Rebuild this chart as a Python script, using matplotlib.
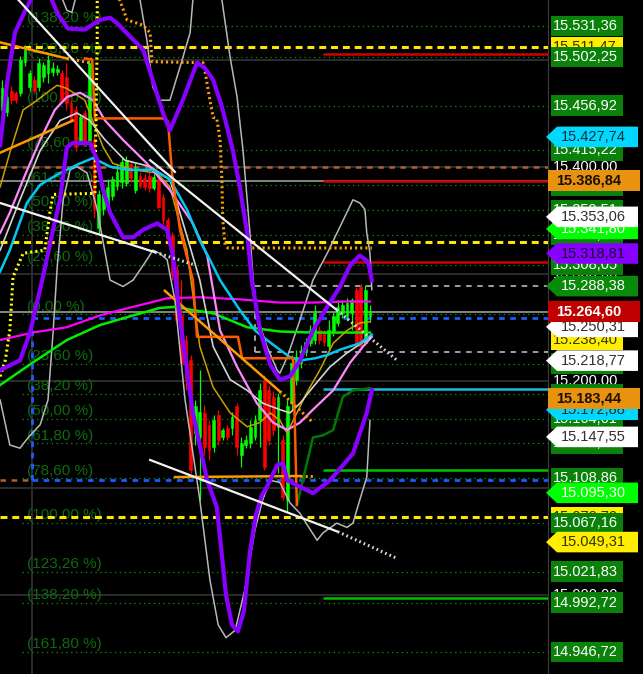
import numpy as np
import matplotlib
matplotlib.use("Agg")
from matplotlib import pyplot as plt
from matplotlib.patches import Polygon

plt.rcParams['font.family'] = ['Liberation Sans', 'DejaVu Sans']
plt.rcParams['lines.scale_dashes'] = False

# ---- candles (bar index = position) ----
opens  = [15453,15451,15471,15469,15469,15498,15474,15481,15474,15484,
          15487,15488,15488,15487,15484,15459,15453,15425,15450,15425,
          15425,15343,15360,15364,15373,15382,15386,15385,15402,15378,
          15391,15389,15391,15380,15388,15372,15350,15335,15303,15261,
          15238,15219,15151,15147,15170,15159,15138,15168,15147,15156,
          15156,15176,15131,15140,15142,15147,15163,15201,15191,15185,
          15157,15145,15089,15179,15201,15217,15227,15235,15238,15247,
          15245,15232,15246,15254,15263,15260,15263,15285,15288,15235,
          15260]
highs  = [15481,15470,15475,15471,15503,15514,15490,15485,15501,15498,
          15504,15498,15495,15490,15497,15462,15457,15449,15453,15500,
          15429,15378,15382,15388,15391,15402,15408,15410,15406,15403,
          15395,15393,15395,15393,15391,15374,15353,15339,15308,15294,
          15243,15224,15182,15210,15177,15163,15168,15173,15156,15159,
          15171,15179,15147,15149,15163,15168,15198,15205,15196,15190,
          15189,15149,15182,15224,15229,15233,15240,15252,15271,15251,
          15247,15257,15264,15275,15275,15277,15277,15288,15290,15289,
          15271]
lows   = [15445,15447,15458,15459,15466,15494,15471,15470,15471,15479,
          15478,15485,15486,15460,15453,15442,15415,15421,15419,15421,
          15352,15336,15355,15360,15369,15378,15380,15382,15386,15375,
          15380,15378,15376,15378,15360,15346,15327,15294,15252,15215,
          15191,15114,15140,15089,15131,15126,15133,15140,15145,15145,
          15149,15131,15119,15137,15137,15145,15138,15117,15140,15149,
          15114,15089,15077,15173,15196,15212,15223,15232,15234,15234,
          15232,15229,15242,15251,15259,15257,15247,15232,15229,15233,
          15255]
closes = [15473,15465,15462,15462,15500,15509,15487,15471,15497,15495,
          15500,15492,15491,15462,15459,15443,15418,15446,15422,15497,
          15360,15374,15378,15381,15388,15395,15404,15406,15389,15397,
          15382,15381,15380,15390,15362,15350,15333,15299,15257,15217,
          15201,15117,15176,15171,15138,15135,15163,15145,15154,15147,
          15166,15138,15142,15145,15157,15163,15191,15119,15145,15154,
          15185,15091,15176,15217,15222,15229,15236,15247,15263,15238,
          15236,15247,15260,15269,15271,15273,15275,15235,15232,15285,
          15265]

# ---- indicator curves (bar, price) ----
purple_low_x = [-0.4,3.9,6.1,8.9,11.1,12.6,14.1,15.4,19.1,20.7,22,23.5,26.3,28.5,30.7,33.7,35.9,37.2,38,38.7,
                41.5,44.6,46.7,47.6,48.7,50,51.3,52.6,53.9,55.2,56.5,57.6,59.8,61.1,62,64.8,67.6,71.3,76.3,79.3,80.4]
purple_low_y = [15210,15219,15245,15297,15341,15369,15418,15422,15422,15406,15378,15357,15334,15334,15341,15347,15341,15316,15285,15257,
                15170,15107,15082,15045,15000,14972,14966,14985,15040,15075,15093,15101,15121,15123,15107,15101,15095,15107,15132,15170,15191]
purple_up_x = [-0.4,1.1,2.8,5.4,7.2,8.7,10.4,12.2,14.3,18,21.3,23.5,25,30.7,35,36.5,39.3,42.4,44.1,45.9,47.8,50.2,
               51.7,53.3,54.3,56.1,58.3,60.4,62.6,64.8,67.6,70.7,73.5,75.7,77.8,79.6,80.4]
purple_up_y = [15420,15478,15525,15549,15563,15570,15560,15542,15529,15528,15537,15539,15534,15509,15450,15434,15462,15497,15492,15481,15456,15415,
               15381,15338,15294,15247,15215,15201,15204,15219,15247,15269,15288,15308,15317,15311,15294]
band_up_x = [11.5,14.1,15.2,17,27.8,30,31.5,32.8,34.3,36.5,38.7,40.9,41.5,43,46.3,47.8,49.6,51.1,52.4,53.3,53.9,54.6,
             55.7,57.6,59.8,60.4,62,64.8,67.6,70.7,73.5,76.3,77.8,78.9,79.3,80,80.4]
band_up_y = [15574,15546,15544,15574,15593,15556,15518,15474,15462,15462,15493,15525,15556,15584,15584,15556,15502,15465,15415,15369,15338,15294,
             15257,15232,15210,15207,15222,15257,15294,15319,15344,15369,15366,15360,15338,15319,15285]
band_low_x = [-0.4,1.7,3.9,5.7,8.3,10,11.1,12,13.3,14.8,16.3,18.5,20.7,23.5,26.3,28.5,31.5,32.8,34.3,35.9,37.6,39.8,
              43,45.2,47,48.7,50.7,52.8,55,56.7,58.3,60.4,62.6,64.8,67,68.5,69.8,72.8,75,76.3,77.8,79.3,80]
band_low_y = [15182,15140,15137,15147,15159,15182,15245,15306,15369,15397,15400,15394,15360,15294,15288,15294,15313,15322,15319,15313,15275,15182,
              15089,15014,14972,14960,14967,15005,15061,15089,15107,15105,15086,15076,15061,15051,15058,15067,15063,15067,15089,15110,15163]
cyan_x = [-0.4,1.7,5.4,8.3,12.6,17,19.8,23.5,27.2,32.8,36.5,40.2,43,45.2,47.4,51.7,55,57.6,60.4,62.6,64.8,68.1,70.7,73.5,77.8,80.4]
cyan_y = [15302,15322,15366,15383,15394,15403,15408,15400,15397,15397,15388,15360,15331,15313,15294,15266,15247,15238,15229,15222,15219,15221,15224,15229,15235,15243]
magenta_x = [-0.4,6.7,14.1,21.3,28.5,35.9,43,51.7,60.4,67.6,75,80]
magenta_y = [15238,15245,15250,15261,15269,15277,15278,15276,15273,15273,15274,15274]
pink_x = [-0.4,1.7,5,8.3,11.5,14.1,17,19.8,22.4,26.3,31.5,36.5,41.5,44.6,47.4,51.1,55.4,58.9,62,64.8,67.6,72,75.7,78.5,80.4]
pink_y = [15338,15357,15392,15425,15453,15465,15469,15462,15443,15425,15403,15378,15347,15317,15247,15213,15179,15161,15154,15161,15173,15191,15217,15232,15241]
grey_ma_x = [-0.4,3.9,8.3,12.6,16.3,19.1,22.4,26.7,32.2,36.5,39.8,43,45.9,49.6,53.3,56.7,60.4,62.6,64.8,67.6,71.3,75,78.5,80]
grey_ma_y = [15322,15369,15415,15443,15450,15443,15425,15406,15400,15388,15341,15294,15232,15201,15191,15179,15173,15170,15179,15194,15213,15226,15236,15241]
olive_x = [-0.4,1.7,4.6,6.7,10.4,12,14.1,18,22,24.1,28.5,33.7,36.5,40.2,43,45.9,49.6,53.3,56.1,58.3,60.4,62,63.3,66.3,69.1,72,75,77.8,80]
olive_y = [15381,15413,15453,15459,15471,15476,15473,15462,15418,15403,15397,15394,15381,15322,15232,15194,15170,15157,15161,15170,15163,15151,15163,15189,15210,15235,15247,15254,15255]
green_ma_x = [-0.4,6.7,14.1,21.3,28.5,34.3,37.6,41.5,45.9,53.3,60.4,67.6,75,80]
green_ma_y = [15196,15217,15238,15252,15261,15268,15269,15266,15263,15250,15246,15245,15245,15245]
dkgreen_x = [64.1,65.4,67.6,69.8,72,74.1,76.3,80]
dkgreen_y = [15084,15107,15147,15149,15154,15185,15191,15193]
step_x = [18,19.6,20.2,35,36.1,37,38.7,41.5,42.4,51.3,52.2,63.3,64.1]
step_y = [15501,15500,15445,15445,15442,15392,15341,15294,15241,15241,15221,15221,15084]
sar_x = [25.2,27.2,30.7,32.2,32.6,43.7,44.1,45.2,45.9,46.7,47.4,47.8,48,48.5,49.1,80.4]
sar_y = [15560,15537,15532,15525,15498,15497,15490,15462,15446,15445,15425,15388,15350,15327,15324,15324]
ydot_x = [-0.4,0.7,1.7,2.4,4.6,9.3,10.4,11.1,20.2,20.7,20.7]
ydot_y = [15204,15219,15247,15297,15319,15322,15357,15374,15375,15520,15565]

# straight segments: (x0, y0, x1, y1, dotted-extension x, y)
white_lines = [(3.5,15556,37.6,15395,None,None),
               (32.2,15406,72.8,15266,85.9,15219),
               (-0.4,15366,33.3,15320,42,15308),
               (32.2,15126,73,15059,85.9,15034)]
orange_lines = [(-0.4,15516,14.1,15501,19.1,15497),
                (-0.4,15413,15.4,15443,None,None),
                (35.4,15284,60.4,15190,67.6,15161),
                (37.6,15110,64.8,15111,67.6,15111)]

# ---- horizontal levels ----
fib_up_vals = [15531.36,15502.25,15456.92,15415.22,15382.42,15359.51,15336.51,15308.05,15262.06]
fib_up_txt = ['(138,20 %)','(123,26 %)','(100,00 %)','(78,60 %)','(61,80 %)','(50,00 %)','(38,20 %)','(23,60 %)','(0,00 %)']
fib_lo_vals = [15216.06,15187.61,15164.61,15141.61,15108.86,15067.16,15021.83,14992.72,14946.72]
fib_lo_txt = ['(23,60 %)','(38,20 %)','(50,00 %)','(61,80 %)','(78,60 %)','(100,00 %)','(123,26 %)','(138,20 %)','(161,80 %)']
grid_vals = [15500, 15400, 15300, 15200, 15100, 15000]
yellow_dash = [15511.47, 15329.6, 15072.7]
red_levels = [15505.5, 15386.84, 15310.9]
grey_solid = [15386.84, 15264.60]
green_right = [15116.6, 14997.1]
cyan_right = [15192.3]
box_levels = [15288.38, 15226.8]
blue_levels = [15258.6, 15107.3]

# right-hand price tags: value, style
tags = [(15427.74,'cyan'),(15386.84,'orange'),(15341.80,'lime'),(15353.06,'white'),
        (15318.81,'purple'),(15288.38,'green'),(15250.31,'white'),(15264.60,'red'),
        (15218.77,'white'),(15172.88,'cyan'),(15183.44,'orange'),(15147.55,'white'),
        (15095.30,'lime'),(15049.31,'yellow')]
yellow_tags = [15511.47, 15238.40, 15072.70]

ybot, ytop = 14926.1, 15555.6
xl, xr = -0.435, 118.7


def fmt(v):
    s = f"{v:,.2f}"
    return s.replace(',', 'X').replace('.', ',').replace('X', '.')


fig = plt.figure(figsize=(6.43, 6.74), dpi=100, facecolor='black')
ax = fig.add_axes([0, 0, 548/643, 1])
ax.set_facecolor('black')
ax.set_xlim(xl, xr)
ax.set_ylim(ybot, ytop)
ax.set_xticks([]); ax.set_yticks([])
for s in ['top', 'left', 'bottom']:
    ax.spines[s].set_visible(False)
ax.spines['right'].set_color('#3c3c3c')

# grid
ax.hlines(grid_vals, xl, xr, color='#2c2c2c', lw=1.4, zorder=1)
ax.axvline(6.5, color='#2c2c2c', lw=1.4, zorder=1)

# fib dotted lines and labels
for v, t in zip(fib_up_vals + fib_lo_vals, fib_up_txt + fib_lo_txt):
    ax.hlines(v, 4.3, xr, color='#0a8a0a', lw=0.9, linestyle=(0, (1, 2.5)), zorder=2)
    ax.text(5.4, v + 3.5, t, color='#0d6b0d', fontsize=11, va='baseline', ha='left', zorder=2)

# horizontal levels
ax.hlines(grey_solid, xl, xr, color='#9a9a9a', lw=1.2, zorder=2)
ax.hlines(15400, xl, xr, color='#b06030', lw=1.8, linestyle=(0, (4, 4)), zorder=2)
ax.hlines(15107.3, xl, 6.5, color='#b06030', lw=1.8, linestyle=(0, (4, 4)), zorder=2)
ax.hlines(yellow_dash, xl, xr, color='#ffe600', lw=2.2, linestyle=(0, (5, 3.5)), zorder=3)
ax.hlines(red_levels, 69.8, xr, color='#d00000', lw=1.8, zorder=3)
ax.hlines(green_right, 69.8, xr, color='#00c000', lw=1.8, zorder=3)
ax.hlines(cyan_right, 69.8, xr, color='#20b8d8', lw=1.8, zorder=3)
ax.hlines(blue_levels, 6.5, xr, color='#1a5cff', lw=2, linestyle=(0, (4, 4)), zorder=3)
ax.vlines(6.5, blue_levels[1], blue_levels[0], color='#1a5cff', lw=2, linestyle=(0, (4, 4)), zorder=3)
ax.hlines(box_levels, 55, xr, color='#c8c8c8', lw=1.1, linestyle=(0, (4, 4)), zorder=3)
ax.vlines(55, box_levels[1], box_levels[0], color='#c8c8c8', lw=1.1, linestyle=(0, (4, 4)), zorder=3)

# candles
o = np.array(opens); c = np.array(closes); h = np.array(highs); l = np.array(lows)
xs = np.arange(len(o))
cols = np.where(c >= o, '#00ff00', '#ff0000')
ax.vlines(xs, l, h, colors=cols, lw=0.9, zorder=4)
ax.bar(xs, np.maximum(np.abs(c - o), 1.5), bottom=np.minimum(o, c), width=0.62,
       color=cols, edgecolor=cols, lw=0.4, zorder=4)

# indicator curves
ax.plot(band_up_x, band_up_y, color='#b8b8b8', lw=1.1, zorder=5)
ax.plot(band_low_x, band_low_y, color='#b8b8b8', lw=1.1, zorder=5)
ax.plot(magenta_x, magenta_y, color='#ff00ff', lw=1.6, zorder=5)
ax.plot(green_ma_x, green_ma_y, color='#00ee00', lw=1.8, zorder=5)
ax.plot(olive_x, olive_y, color='#c8a000', lw=1.1, zorder=5)
ax.plot(grey_ma_x, grey_ma_y, color='#d4d4d4', lw=1.2, zorder=5)
ax.plot(pink_x, pink_y, color='#ff88ff', lw=1.6, zorder=5)
ax.plot(cyan_x, cyan_y, color='#00c8f0', lw=1.8, zorder=5)
ax.plot(dkgreen_x, dkgreen_y, color='#007800', lw=1.8, zorder=5)
ax.plot(step_x, step_y, color='#ff5a00', lw=1.8, zorder=5)
ax.plot(sar_x, sar_y, color='#ffa000', lw=2.2, linestyle=(0, (1.5, 2.2)), zorder=5)
ax.plot(ydot_x, ydot_y, color='#ffff00', lw=2.2, linestyle=(0, (1.5, 2.2)), zorder=5)
for x0, y0, x1, y1, x2, y2 in orange_lines:
    ax.plot([x0, x1], [y0, y1], color='#ff9900', lw=1.8, zorder=5)
    if x2 is not None:
        ax.plot([x1, x2], [y1, y2], color='#ff9900', lw=2.2, linestyle=(0, (1.5, 2.2)), zorder=5)
ax.plot(purple_up_x, purple_up_y, color='#8800ff', lw=3.0, zorder=6, solid_joinstyle='round')
ax.plot(purple_low_x, purple_low_y, color='#8800ff', lw=3.0, zorder=6, solid_joinstyle='round')
for x0, y0, x1, y1, x2, y2 in white_lines:
    ax.plot([x0, x1], [y0, y1], color='#f2f2f2', lw=1.6, zorder=7)
    if x2 is not None:
        ax.plot([x1, x2], [y1, y2], color='#d8d8d8', lw=2.2, linestyle=(0, (1.2, 2.2)), zorder=7)

# ---- right price scale ----
lab = fig.add_axes([0, 0, 1, 1], facecolor='none')
lab.set_xlim(0, 643)
lab.set_ylim(ybot, ytop)
lab.axis('off')
hh = 9.6

styles = {
    'frect': ('#0a820a', 'white', 'rect', False),
    'yrect': ('#ffee00', '#333300', 'rect', False),
    'cyan': ('#00d8ff', '#10303a', 'arrow', False),
    'orange': ('#e8920f', '#1a1000', 'wide', True),
    'lime': ('#00ff00', 'white', 'arrow', False),
    'white': ('#ffffff', '#303030', 'arrow', False),
    'purple': ('#8800ff', '#1a0a2a', 'arrow', False),
    'green': ('#0a8a0a', 'white', 'arrow', False),
    'red': ('#c00000', 'white', 'wide', True),
    'yellow': ('#ffee00', '#333300', 'arrow', False),
}
layer = [10]


def tag(v, style):
    fc, tc, shape, bold = styles[style]
    if shape == 'rect':
        pts = [(551, v - hh), (623, v - hh), (623, v + hh), (551, v + hh)]
        tx = 553
    elif shape == 'wide':
        pts = [(548, v - hh), (640, v - hh), (640, v + hh), (548, v + hh)]
        tx = 556
    else:
        pts = [(546, v), (557, v + hh), (638, v + hh), (638, v - hh), (557, v - hh)]
        tx = 561
    z = layer[0]
    lab.add_patch(Polygon(pts, closed=True, fc=fc, ec='none', zorder=z))
    lab.text(tx, v, fmt(v), color=tc, fontsize=10.5, va='center', ha='left',
             fontweight='bold' if bold else 'normal', zorder=z + 1)
    layer[0] += 2


for g in grid_vals:
    lab.text(553, g, fmt(g), color='white', fontsize=10.5, va='center', ha='left', zorder=5)
for v in yellow_tags:
    tag(v, 'yrect')
for v in fib_up_vals + fib_lo_vals:
    tag(v, 'frect')
for v, s in tags:
    tag(v, s)

fig.savefig('out.png', dpi=100, facecolor='black')
